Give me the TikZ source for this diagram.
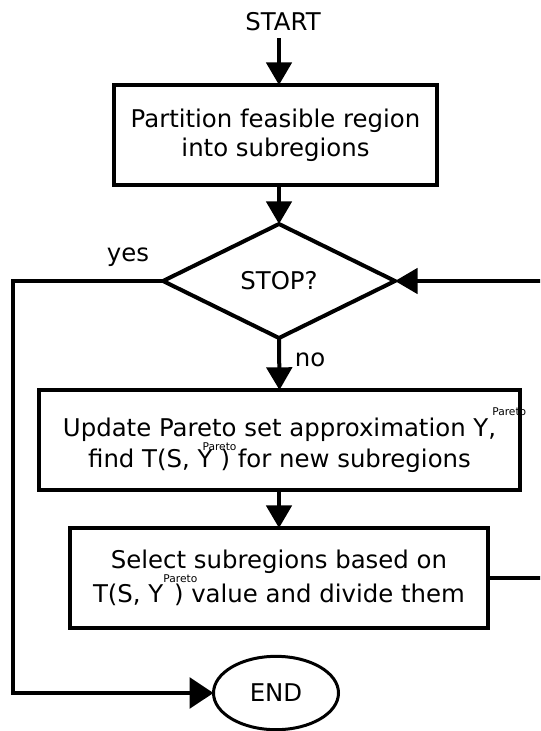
\documentclass[tikz,border=0pt]{standalone}
\usepackage{fontspec}
\setmainfont{DejaVu Sans}
\usetikzlibrary{arrows.meta,shapes.geometric}
\newcommand\paretotxt{{\fontsize{8}{9}\selectfont Pareto}}
\begin{document}
\begin{tikzpicture}[x=0.75pt,y=-0.75pt,
  every node/.style={font=\fontsize{18.3}{22}\selectfont},
  flowbox/.style={draw,line width=3pt,outer sep=0pt,inner sep=0pt,align=center,minimum height=75pt},
  conn/.style={line width=3pt},
  arr/.style={conn,-{Triangle[length=17pt,width=19pt]}},
  lbl/.style={inner sep=0pt}]
\useasboundingbox (0,0) rectangle (540,731);
\clip (0,0) rectangle (540,731);
\node[lbl] (start) at (283,22) {START};
\node[flowbox,minimum width=242.25pt] (b1) at (275.5,135) {Partition feasible region\\into subregions};
\node[draw,diamond,line width=3pt,outer sep=0pt,inner sep=0pt,minimum width=174pt,minimum height=85.5pt] (d) at (279,281) {STOP?};
\node[flowbox,minimum width=360.75pt] (b2) at (279.5,440) {Update Pareto set approximation Y\rlap{\hspace{3pt}\raisebox{16pt}{\paretotxt}},\\find T(S, Y\rlap{\hspace{-7.5pt}\raisebox{12.75pt}{\paretotxt}}\hspace{6pt}) for new subregions};
\node[flowbox,minimum width=313.5pt] (b3) at (279,578) {Select subregions based on\\T(S, Y\rlap{\hspace{0pt}\raisebox{15pt}{\paretotxt}}\hspace{8pt}) value and divide them};
\node[draw,ellipse,line width=2.25pt,outer sep=0pt,inner sep=0pt,minimum width=93.75pt,minimum height=55pt] (e) at (276,693) {END};
\node[lbl] (yes) at (128,257) {yes};
\node[lbl] (no) at (310,360) {no};
\coordinate (leftx) at (13,0);
\coordinate (rightx) at (570,0);
\draw[arr] (d.north |- start.south) ++(0,7) -- (d.north |- b1.north);
\draw[arr] (d.north |- b1.south) -- (d.north);
\draw[arr] (d.south) -- (b2.north);
\draw[arr] (d.south |- b2.south) -- (d.south |- b3.north);
\draw[conn,-{Triangle[length=18pt,width=23pt]}] (d.west) -- (d.west -| leftx) |- (e.west);
\draw[arr] (b3.east) -- (b3.east -| rightx) |- (d.east);
\end{tikzpicture}
\end{document}
